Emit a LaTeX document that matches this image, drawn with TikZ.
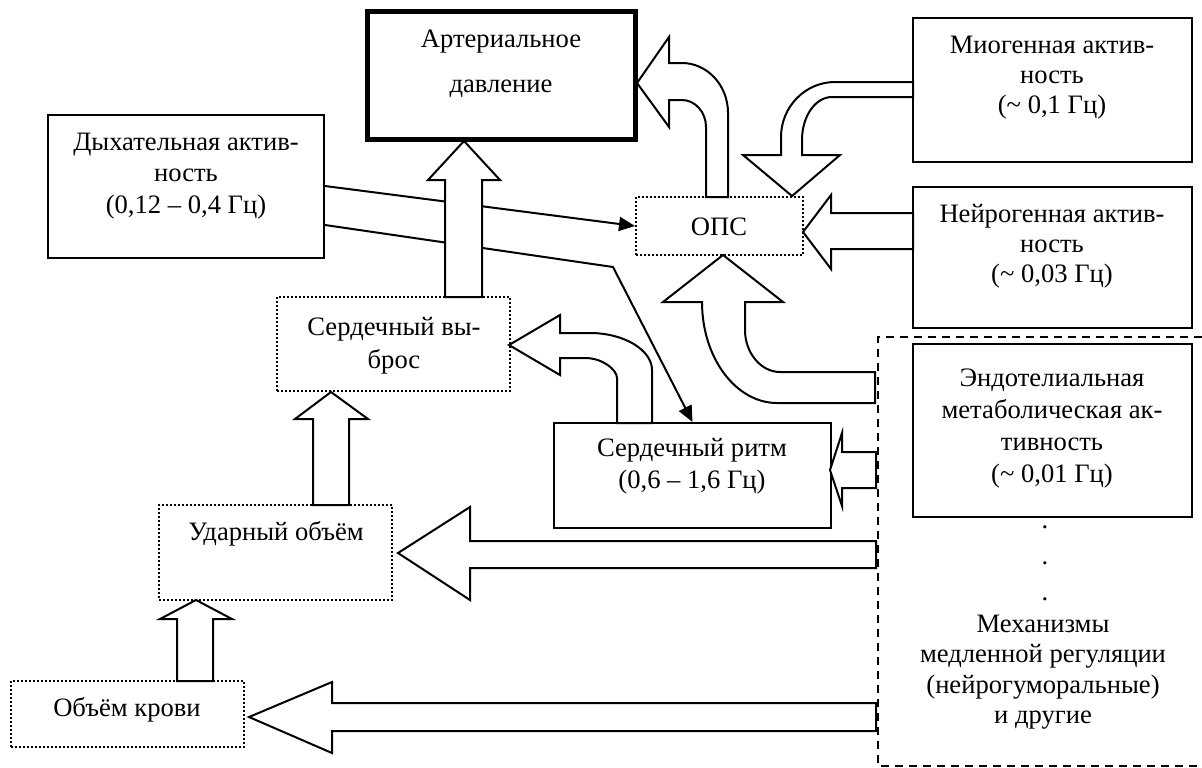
\documentclass[tikz,border=0pt]{standalone}
\usepackage{fontspec}
\setmainfont{Liberation Serif}
\usetikzlibrary{arrows.meta}
\begin{document}
\begin{tikzpicture}[x=0.5pt,y=-0.5pt,
  box/.style={draw, line width=1pt, inner sep=0},
  dotbox/.style={draw, line width=1pt, dash pattern=on 1pt off 1pt, inner sep=0},
  blockarrow/.style={draw, fill=white, line width=1pt, line join=miter},
  thinarrow/.style={line width=1pt, -{Triangle[length=8pt,width=7pt]}},
  txt/.style={font=\fontsize{13.3}{15.5}\selectfont, align=center, inner sep=0, anchor=base}]
\useasboundingbox (0,0) rectangle (1202,767);

% boxes
\node[box, line width=2.5pt, minimum width=134pt, minimum height=64pt] (ad) at (501,75) {};
\node[box, minimum width=138pt, minimum height=71.5pt] (dyh) at (186,186.5) {};
\node[box, minimum width=139.5pt, minimum height=72pt] (mio) at (1052.5,90) {};
\node[box, minimum width=139.5pt, minimum height=70.5pt] (nei) at (1052.5,257.5) {};
\node[box, minimum width=139.5pt, minimum height=86.5pt] (endo) at (1052.5,430.5) {};
\node[dotbox, minimum width=83.5pt, minimum height=29pt] (ops) at (719.5,226) {};
\node[dotbox, minimum width=116.5pt, minimum height=47pt] (vyb) at (393.5,344) {};
\node[box, minimum width=138.5pt, minimum height=52.5pt] (sr) at (692.5,475.5) {};
\node[dotbox, minimum width=116.5pt, minimum height=47.5pt] (udar) at (275.5,552.5) {};
\node[dotbox, minimum width=116.5pt, minimum height=33pt] (obkr) at (127.5,714) {};

% texts (base anchor = baseline of the last line)
\node[txt, font=\fontsize{13.3}{22.5}\selectfont] (tad) at (501,92) {Артериальное\\давление};
\node[txt, font=\fontsize{13.3}{15.75}\selectfont] (tdyh) at (186,213) {Дыхательная актив-\\ность\\(0,12 – 0,4 Гц)};
\node[txt, font=\fontsize{13.3}{15}\selectfont] (tmio) at (1052,113) {Миогенная актив-\\ность\\(\char"007E{} 0,1 Гц)};
\node[txt, font=\fontsize{13.3}{15}\selectfont] (tnei) at (1052,282) {Нейрогенная актив-\\ность\\(\char"007E{} 0,03 Гц)};
\node[txt, font=\fontsize{13.3}{16}\selectfont] (tendo) at (1052,482) {Эндотелиальная\\метаболическая ак-\\тивность\\(\char"007E{} 0,01 Гц)};
\node[txt, font=\fontsize{13.3}{18}\selectfont] (tdots) at (1045,600) {.\\.\\.};
\node[txt, font=\fontsize{13.3}{15.25}\selectfont] (tmech) at (1043,723.5) {Механизмы\\медленной регуляции\\(нейрогуморальные)\\и другие};
\node[txt] (tops) at (719,235) {ОПС};
\node[txt, font=\fontsize{13.3}{16.5}\selectfont] (tvyb) at (394,368) {Сердечный вы-\\брос};
\node[txt, font=\fontsize{13.3}{16}\selectfont] (tsr) at (692,488) {Сердечный ритм\\(0,6 – 1,6 Гц)};
\node[txt] (tudar) at (276,540) {Ударный объём};
\node[txt] (tobkr) at (127,716) {Объём крови};

% dashed region
\draw[line width=1pt, dash pattern=on 4pt off 3pt] (1202,337) -- (878,337) -- (878,766) -- (1202,766);

% thin connectors
\coordinate (bend) at (613,267);
\draw[thinarrow] ([yshift=-36pt]dyh.north east) -- (ops.west);
\draw[thinarrow] ([yshift=-55.5pt]dyh.north east) -- (bend) -- (sr.north);

% straight block arrows (up)
\draw[blockarrow] (445,297) -- (445,180) -- (428,180) -- (464,141) -- (500,180) -- (482,180) -- (482,297) -- cycle;
\draw[blockarrow] (313,505) -- (313,419) -- (295,419) -- (331,392) -- (368,419) -- (349,419) -- (349,505) -- cycle;
\draw[blockarrow] (177,681) -- (177,619) -- (160,619) -- (196,600) -- (232,619) -- (213,619) -- (213,681) -- cycle;

% straight block arrows (left)
\draw[blockarrow] (913,213) -- (831,213) -- (831,195) -- (803,232) -- (831,269) -- (831,249) -- (913,249) -- cycle;
\draw[blockarrow] (876,452) -- (842,452) -- (842,433) -- (830,470) -- (842,506) -- (842,488) -- (876,488) -- cycle;
\draw[blockarrow] (876,541) -- (470,541) -- (470,507) -- (398,553) -- (470,600) -- (470,568) -- (876,568) -- cycle;
\draw[blockarrow] (876,703) -- (332,703) -- (332,682) -- (249,717) -- (332,753) -- (332,731) -- (876,731) -- cycle;

% curved block arrows
\draw[blockarrow] (706,197) -- (706,127) .. controls (706,112) and (695,100) .. (682,100) -- (669,100) -- (669,127) -- (637,83) -- (669,37) -- (669,63) -- (682,63) .. controls (707,63) and (728,85) .. (728,113) -- (728,197) -- cycle;
\draw[blockarrow] (913,82) -- (835,82) .. controls (805,82) and (781,107) .. (781,137) -- (781,155) -- (743,155) -- (792,196) -- (840,155) -- (802,155) -- (802,140) .. controls (802,116) and (815.5,97) .. (832,97) -- (913,97) -- cycle;
\draw[blockarrow] (875,372) -- (780,372) .. controls (761,372) and (745,353) .. (745,330) -- (745,302) -- (783,302) -- (723,255) -- (663,302) -- (702,302) .. controls (702,358) and (736,403) .. (777,403) -- (875,403) -- cycle;
\draw[blockarrow] (617,423) -- (617,378) .. controls (617,370) and (603,358) .. (585,358) -- (560,358) -- (560,375) -- (509,345) -- (560,315) -- (560,333) -- (590,333) .. controls (624,333) and (652,350) .. (652,370) -- (652,423) -- cycle;
\end{tikzpicture}
\end{document}
